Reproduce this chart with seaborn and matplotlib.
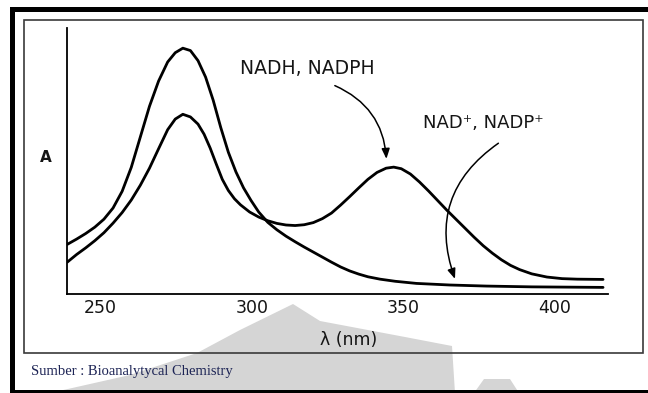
import numpy as np
import pandas as pd
import seaborn as sns
import matplotlib
matplotlib.use("Agg")
import matplotlib.pyplot as plt
from matplotlib.patches import Rectangle, Polygon
from matplotlib.transforms import ScaledTranslation

# Absorption spectra (wavelength in nm, absorbance in arbitrary units)
nad_nm = [236.9, 240, 243, 246, 249, 252, 255, 258, 261, 264,
          267, 270, 272.5, 275, 277.5, 280, 282.5, 285, 287.5, 290,
          292.5, 295, 297.5, 300, 303, 306, 309, 312, 315, 318,
          321, 324, 327, 330, 333, 336, 340, 345, 352, 363,
          375, 390, 413.5]
nad_a = [0.185, 0.205, 0.226, 0.250, 0.280, 0.322, 0.385, 0.475, 0.590, 0.705,
         0.800, 0.872, 0.907, 0.924, 0.915, 0.877, 0.815, 0.728, 0.625, 0.532,
         0.458, 0.398, 0.350, 0.307, 0.268, 0.240, 0.216, 0.195, 0.175, 0.156,
         0.137, 0.118, 0.100, 0.085, 0.073, 0.063, 0.054, 0.046, 0.038, 0.032,
         0.028, 0.025, 0.023]

nadh_nm = [236.9, 240, 243, 246, 249, 252, 255, 258, 261, 264,
           267, 270, 272.5, 275, 277.5, 280, 282, 284, 286, 288,
           290, 292, 294, 297, 300, 303, 306, 309, 312, 315,
           318, 321, 324, 327, 330, 333, 336, 339, 342, 344.5,
           347, 350, 353, 356, 359, 362, 365, 368, 371, 374,
           377, 380, 383, 386, 390, 395, 400, 405, 413.5]
nadh_a = [0.118, 0.147, 0.172, 0.199, 0.229, 0.265, 0.305, 0.352, 0.408, 0.472,
          0.545, 0.617, 0.657, 0.675, 0.665, 0.638, 0.600, 0.548, 0.488, 0.430,
          0.388, 0.357, 0.334, 0.307, 0.288, 0.274, 0.264, 0.258, 0.256, 0.259,
          0.267, 0.282, 0.303, 0.333, 0.365, 0.398, 0.430, 0.456, 0.472, 0.476,
          0.470, 0.450, 0.420, 0.386, 0.350, 0.314, 0.280, 0.246, 0.212, 0.180,
          0.152, 0.127, 0.106, 0.090, 0.074, 0.062, 0.056, 0.054, 0.053]

x_ticks = [250, 300, 350, 400]
x_tick_labels = ["250", "300", "350", "400"]

df = pd.concat([
    pd.DataFrame({"nm": nad_nm, "A": nad_a, "species": "NAD+"}),
    pd.DataFrame({"nm": nadh_nm, "A": nadh_a, "species": "NADH"}),
])

sns.set_theme(style="white")
plt.rcParams["font.family"] = ["DejaVu Sans"]

W, H = 648, 393
fig = plt.figure(figsize=(W / 100, H / 100), dpi=100)
fig.patch.set_facecolor("white")


def fx(x):
    return x / W


def fy(y):
    return 1 - y / H


# faint watermark behind the lower part of the page
wm_color = "#d5d5d5"
wm = Polygon([(fx(293), fy(304)), (fx(320), fy(321)), (fx(405), fy(337)),
              (fx(452), fy(346)), (fx(455), fy(393)), (fx(50), fy(393)),
              (fx(130), fy(375)), (fx(197), fy(353)), (fx(240), fy(330))],
             closed=True, transform=fig.transFigure, facecolor=wm_color,
             edgecolor="none", zorder=0)
fig.add_artist(wm)
wm2 = Polygon([(fx(484), fy(379)), (fx(510), fy(379)), (fx(519), fy(393)),
               (fx(474), fy(393))], closed=True, transform=fig.transFigure,
              facecolor=wm_color, edgecolor="none", zorder=0)
fig.add_artist(wm2)

# page frame: heavy outer border and thin inner box
for (x0, y0, x1, y1) in [(10, 7, 648, 12), (10, 7, 15, 393), (10, 390, 648, 393)]:
    fig.add_artist(Rectangle((fx(x0), fy(y1)), fx(x1) - fx(x0), fy(y0) - fy(y1),
                             transform=fig.transFigure, facecolor="black",
                             edgecolor="none", zorder=1))
fig.add_artist(Rectangle((fx(23.5), fy(353)), fx(643) - fx(23.5), fy(20) - fy(353),
                         transform=fig.transFigure, facecolor="none",
                         edgecolor="#3a3a3a", lw=1.2, zorder=1))

ax = fig.add_axes([fx(67), fy(293.5), fx(608) - fx(67), fy(28) - fy(293.5)])
ax.set_facecolor("none")

sns.lineplot(data=df, x="nm", y="A", hue="species", palette=["black", "black"],
             estimator=None, sort=False, legend=False, lw=2.0, ax=ax)
for line in ax.lines:
    line.set_solid_joinstyle("round")
    line.set_solid_capstyle("round")

ax.set_xlim(236.82, 415.13)
ax.set_ylim(0, 1.0)
for side in ["top", "right"]:
    ax.spines[side].set_visible(False)
for side in ["left", "bottom"]:
    ax.spines[side].set_color("black")
    ax.spines[side].set_linewidth(1.3)

ax.set_xticks(x_ticks)
ax.set_xticklabels(x_tick_labels)
ax.set_yticks([])
ax.tick_params(axis="x", direction="in", length=4, width=1.3, color="black",
               pad=4, labelsize=12.5, labelcolor="#151515")
shift = ScaledTranslation(-7 / 100, 0, fig.dpi_scale_trans)
for lab in ax.get_xticklabels():
    lab.set_transform(lab.get_transform() + shift)

ax.set_xlabel("λ (nm)", fontsize=12.5, color="#151515", va="center")
ax.xaxis.set_label_coords(0.521, -0.175)
ax.set_ylabel("A", fontsize=11, fontweight="bold", color="#151515",
              rotation=0, va="center", ha="center")
ax.yaxis.set_label_coords(-0.039, 0.514)

ax.text(316.1, 0.846, "NADH, NADPH", fontsize=13.5, color="#151515",
        ha="center", va="center")
ax.text(374.1, 0.644, "NAD⁺, NADP⁺", fontsize=13, color="#151515",
        ha="center", va="center")

arrow_kw = dict(arrowstyle="-|>,head_length=0.5,head_width=0.2", color="black",
                lw=1.1, mutation_scale=12, shrinkA=0, shrinkB=0)
ax.annotate("", xy=(342.1, 0.507), xytext=(325.1, 0.783),
            arrowprops=dict(connectionstyle="arc3,rad=-0.3", **arrow_kw))
ax.annotate("", xy=(364.7, 0.055), xytext=(379.0, 0.566),
            arrowprops=dict(connectionstyle="arc3,rad=0.38", **arrow_kw))

fig.text(fx(31), fy(371.5), "Sumber : Bioanalytycal Chemistry",
         family=["Liberation Serif", "DejaVu Serif"], fontsize=10.5,
         color="#1d2455", ha="left", va="center", zorder=2)

fig.savefig("out.png", dpi=100)
